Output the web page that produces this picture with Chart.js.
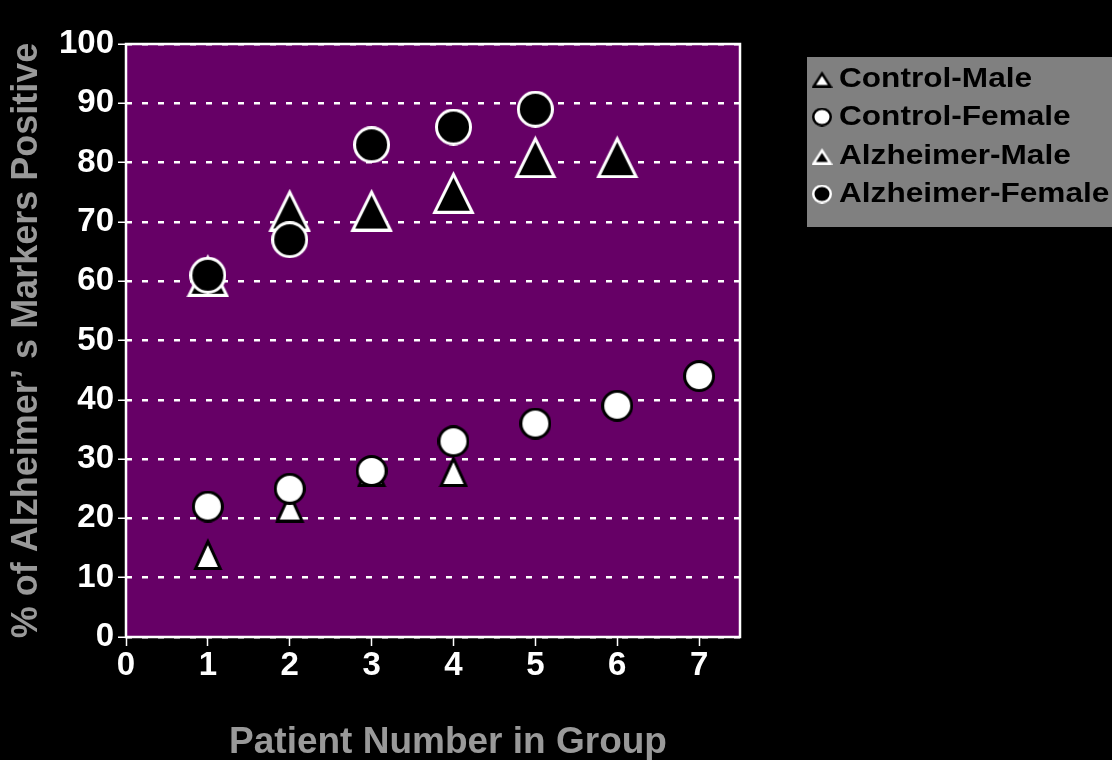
<!DOCTYPE html>
<html>
<head>
<meta charset="utf-8">
<script src="https://cdn.jsdelivr.net/npm/chart.js@4/dist/chart.umd.min.js"></script>
<style>
  html, body { margin: 0; padding: 0; background: #000; }
  canvas { display: block; }
</style>
</head>
<body>
<canvas id="chart" width="1112" height="760"></canvas>
<script>
// Series: percentage of Alzheimer's markers positive, by patient number in group
const seriesNames = ['Control-Male', 'Control-Female', 'Alzheimer-Male', 'Alzheimer-Female'];
const controlMaleX = [1, 2, 3, 4];
const controlMaleY = [14, 22, 28, 28];
const controlFemaleX = [1, 2, 3, 4, 5, 6, 7];
const controlFemaleY = [22, 25, 28, 33, 36, 39, 44];
const alzMaleX = [1, 2, 3, 4, 5, 6];
const alzMaleY = [61, 72, 72, 75, 81, 81];
const alzFemaleX = [1, 2, 3, 4, 5];
const alzFemaleY = [61, 67, 83, 86, 89];
const xTickValues = [0, 1, 2, 3, 4, 5, 6, 7];
const yTickValues = [0, 10, 20, 30, 40, 50, 60, 70, 80, 90, 100];
const xTitle = 'Patient Number in Group';
const yTitle = '% of Alzheimer’ s Markers Positive';

const FONT = "'Liberation Sans', Arial, Helvetica, sans-serif";

// Marker images: filled shape with an outline, centred on the data point
function marker(shape, w, h, fill, stroke, lw) {
  const c = document.createElement('canvas');
  c.width = w; c.height = h;
  const g = c.getContext('2d');
  g.fillStyle = fill;
  g.strokeStyle = stroke;
  g.lineWidth = lw;
  g.lineJoin = 'miter';
  g.beginPath();
  const p = lw / 2;
  if (shape === 'circle') {
    g.ellipse(w / 2, h / 2, w / 2 - p, h / 2 - p, 0, 0, Math.PI * 2);
  } else {
    g.moveTo(w / 2, lw * 1.2);
    g.lineTo(w - lw * 0.9, h - p);
    g.lineTo(lw * 0.9, h - p);
    g.closePath();
  }
  g.fill();
  g.stroke();
  return c;
}

const styles = [
  { plot: marker('triangle', 30, 32, '#ffffff', '#000000', 3), key: marker('triangle', 21, 17, '#ffffff', '#000000', 2.5) },
  { plot: marker('circle', 32, 32, '#ffffff', '#000000', 3),   key: marker('circle', 20, 19, '#ffffff', '#000000', 2.5) },
  { plot: marker('triangle', 43, 43, '#000000', '#ffffff', 3), key: marker('triangle', 21, 17, '#000000', '#ffffff', 2.5) },
  { plot: marker('circle', 37, 37, '#000000', '#ffffff', 3),   key: marker('circle', 20, 19, '#000000', '#ffffff', 2.5) }
];

function points(xs, ys) { return xs.map((x, i) => ({ x: x, y: ys[i] })); }

const datasets = [
  { label: seriesNames[0], data: points(controlMaleX, controlMaleY), order: 4 },
  { label: seriesNames[1], data: points(controlFemaleX, controlFemaleY), order: 3 },
  { label: seriesNames[2], data: points(alzMaleX, alzMaleY), order: 2 },
  { label: seriesNames[3], data: points(alzFemaleX, alzFemaleY), order: 1 }
].map((d, i) => Object.assign(d, {
  pointStyle: styles[i].plot,
  pointRadius: 16,
  pointHoverRadius: 16,
  showLine: false
}));

// Purple plotting area, white frame, grey legend box and the x-axis title
const decorations = {
  id: 'decorations',
  beforeDraw(chart) {
    const { ctx, chartArea: a } = chart;
    ctx.save();
    ctx.fillStyle = '#000000';
    ctx.fillRect(0, 0, chart.width, chart.height);
    ctx.fillStyle = '#660066';
    ctx.fillRect(a.left, a.top, a.right - a.left, a.bottom - a.top);
    ctx.restore();
  },
  beforeDatasetsDraw(chart) {
    const { ctx, chartArea: a } = chart;
    ctx.save();
    ctx.strokeStyle = '#ffffff';
    ctx.lineWidth = 2.5;
    ctx.strokeRect(a.left, a.top, a.right - a.left, a.bottom - a.top);
    ctx.restore();
  },
  afterDraw(chart) {
    const { ctx } = chart;
    ctx.save();
    // x-axis title
    ctx.fillStyle = '#999999';
    ctx.font = 'bold 37px ' + FONT;
    ctx.textAlign = 'center';
    ctx.textBaseline = 'alphabetic';
    ctx.fillText(xTitle, 448, 753);

    // legend
    ctx.fillStyle = '#808080';
    ctx.fillRect(807, 57, chart.width - 807, 170);
    const rows = [79, 117, 156, 194];
    seriesNames.forEach((name, i) => {
      const k = styles[i].key;
      ctx.drawImage(k, 822 - k.width / 2, rows[i] - k.height / 2);
      ctx.save();
      ctx.translate(839, rows[i]);
      ctx.scale(1.17, 1);
      ctx.fillStyle = '#000000';
      ctx.font = 'bold 27px ' + FONT;
      ctx.textAlign = 'left';
      ctx.textBaseline = 'middle';
      ctx.fillText(name, 0, 1);
      ctx.restore();
    });
    ctx.restore();
  }
};

new Chart(document.getElementById('chart'), {
  type: 'scatter',
  data: { datasets: datasets },
  options: {
    responsive: false,
    animation: false,
    events: [],
    layout: { padding: { top: 44, right: 372, bottom: 0, left: 0 } },
    plugins: { legend: { display: false }, tooltip: { enabled: false } },
    scales: {
      x: {
        type: 'linear',
        min: 0,
        max: 7.5,
        afterBuildTicks: s => { s.ticks = xTickValues.map(v => ({ value: v })); },
        afterFit: s => { s.height = 123; },
        grid: { drawOnChartArea: false, drawTicks: true, tickLength: 9, color: '#ffffff', tickWidth: 1.5 },
        border: { display: false },
        ticks: {
          color: '#ffffff',
          padding: 0,
          autoSkip: false,
          maxRotation: 0,
          font: { family: FONT, size: 33, weight: 'bold' }
        }
      },
      y: {
        type: 'linear',
        min: 0,
        max: 100,
        afterBuildTicks: s => { s.ticks = yTickValues.map(v => ({ value: v })); },
        afterFit: s => { s.width = 126; },
        grid: { color: '#ffffff', lineWidth: 2.5, tickLength: 8, tickColor: '#ffffff', tickWidth: 1.5 },
        border: { display: false, dash: [6, 10] },
        ticks: {
          color: '#ffffff',
          padding: 4,
          autoSkip: false,
          font: { family: FONT, size: 33, weight: 'bold' }
        },
        title: {
          display: true,
          text: yTitle,
          color: '#999999',
          padding: { top: 5, bottom: 0 },
          font: { family: FONT, size: 36, weight: 'bold' }
        }
      }
    }
  },
  plugins: [decorations]
});
</script>
</body>
</html>
